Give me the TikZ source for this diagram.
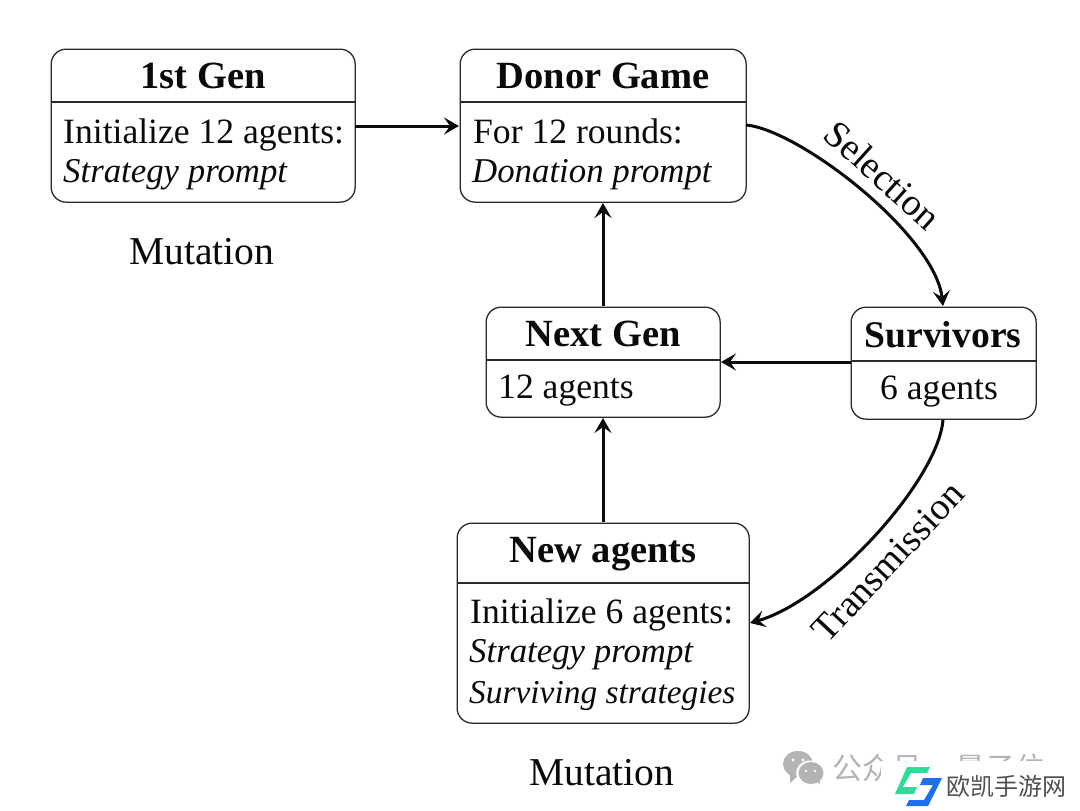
\documentclass[tikz,border=0pt]{standalone}
\usepackage{fontspec}
\setmainfont{Liberation Serif}
\newfontfamily\cjkfont{Noto Sans CJK SC}
\usetikzlibrary{arrows.meta}
\definecolor{inkc}{HTML}{0A0A0A}
\definecolor{framec}{HTML}{2A2A2A}
\definecolor{wmgray}{HTML}{B4B4B4}
\definecolor{logogreen}{HTML}{2FDD9B}
\definecolor{logoblue}{HTML}{1E6FF0}
\definecolor{logotext}{HTML}{505050}
\tikzset{
  x=1pt,y=-1pt,
  cardbox/.style={draw=framec,line width=1.3pt,rounded corners=15pt,inner sep=0pt,anchor=north west},
  divider/.style={draw=framec,line width=1.1pt},
  title/.style={font=\fontsize{38.5}{40}\selectfont\bfseries,anchor=base,inner sep=0pt,text=inkc},
  body/.style={font=\fontsize{35.6}{40}\selectfont,anchor=base west,inner sep=0pt,text=inkc},
  bodyit/.style={font=\fontsize{34.8}{40}\selectfont\itshape,anchor=base west,inner sep=0pt,text=inkc},
  plain/.style={font=\fontsize{39.5}{40}\selectfont,anchor=base,inner sep=0pt,text=inkc},
  edgelabel/.style={font=\fontsize{38}{40}\selectfont,inner sep=0pt,text=inkc},
  flow/.style={draw=inkc,line width=3pt,-{Stealth[length=15pt,width=17pt,inset=6pt]}},
}
\begin{document}
\begin{tikzpicture}
\useasboundingbox (0,0) rectangle (1080,811);
\fill[white] (0,0) rectangle (1080,811);

\node[cardbox,minimum width=304pt,minimum height=153pt] (first) at (50.5,48.5) {};
\node[cardbox,minimum width=286pt,minimum height=153pt] (donor) at (459.5,48.5) {};
\node[cardbox,minimum width=234pt,minimum height=110pt] (next) at (485.5,306.5) {};
\node[cardbox,minimum width=185pt,minimum height=112pt] (surv) at (850.5,306.5) {};
\node[cardbox,minimum width=292pt,minimum height=200pt] (newag) at (456.5,522.5) {};

\coordinate (firstL) at (50.5,102); \coordinate (firstR) at (354.5,102);
\coordinate (donorL) at (459.5,102); \coordinate (donorR) at (745.5,102);
\coordinate (nextL) at (485.5,360); \coordinate (nextR) at (719.5,360);
\coordinate (survL) at (850.5,361); \coordinate (survR) at (1035.5,361);
\coordinate (newL) at (456.5,583); \coordinate (newR) at (748.5,583);
\draw[divider] (firstL) -- (firstR);
\draw[divider] (donorL) -- (donorR);
\draw[divider] (nextL) -- (nextR);
\draw[divider] (survL) -- (survR);
\draw[divider] (newL) -- (newR);

\node[title] (t1) at (203,88) {1st Gen};
\node[body] (b1a) at (63,143) {Initialize 12 agents:};
\node[bodyit] (b1b) at (63,182) {Strategy prompt};
\node[plain] (m1) at (202,264) {Mutation};

\node[title] (t2) at (603,88) {Donor Game};
\node[body] (b2a) at (473,143) {For 12 rounds:};
\node[bodyit] (b2b) at (472,182) {Donation prompt};

\node[title] (t3) at (603,346) {Next Gen};
\node[body] (b3) at (498,398) {12 agents};

\node[title,font=\fontsize{37.6}{40}\selectfont\bfseries] (t4) at (943,347) {Survivors};
\node[body] (b4) at (880,399) {6 agents};

\node[title] (t5) at (603,562) {New agents};
\node[body] (b5a) at (470,623) {Initialize 6 agents:};
\node[bodyit] (b5b) at (469,662) {Strategy prompt};
\node[bodyit,font=\fontsize{33.4}{40}\selectfont\itshape] (b5c) at (469,703) {Surviving strategies};
\node[plain] (m2) at (602,785) {Mutation};

\coordinate (a1s) at (355,126); \coordinate (a1e) at (459,126);
\coordinate (a2s) at (603,306); \coordinate (a2e) at (603,203);
\coordinate (a3s) at (851,362); \coordinate (a3e) at (721,362);
\coordinate (a4s) at (603,522); \coordinate (a4e) at (603,418);
\coordinate (a5s) at (746,125); \coordinate (a5e) at (943,306);
\coordinate (a6s) at (943,420); \coordinate (a6e) at (750,623);
\draw[flow] (a1s) -- (a1e);
\draw[flow] (a2s) -- (a2e);
\draw[flow] (a3s) -- (a3e);
\draw[flow] (a4s) -- (a4e);
\draw[flow] (a5s) .. controls (800,130) and (935,235) .. (a5e);
\draw[flow] (a6s) .. controls (938,480) and (830,600) .. (a6e);

\node[edgelabel,rotate=-42] (sel) at (883,175) {Selection};
\node[edgelabel,rotate=47] (tra) at (888,562) {Transmission};

% watermark
\begin{scope}
\clip (830,745) rectangle (880,790) (880,745) rectangle (1050,760);
\node[font=\cjkfont\fontsize{30}{30}\selectfont,text=wmgray,anchor=west,inner sep=0pt] (wm) at (832,768) {公众号\hspace{33pt}量子位};
\end{scope}
\fill[wmgray] (798,764) ellipse (15pt and 13pt);
\fill[wmgray] (790,774) -- (790,783) -- (798,776) -- cycle;
\fill[white] (810,773) ellipse (14pt and 12.5pt);
\fill[wmgray] (811,773) ellipse (12.5pt and 11pt);
\fill[wmgray] (816,781) -- (820,784) -- (819,776) -- cycle;
\fill[white] (793,760) circle (1.6pt) (803,760) circle (1.6pt) (806,771) circle (1.4pt) (815,771) circle (1.4pt);
\fill[logogreen] (907,767) -- (930,767) -- (927,773) -- (911,773) -- (903,787) -- (917,787) -- (914,794) -- (895,794) -- cycle;
\fill[logoblue] (923,778) -- (942,778) -- (928,806) -- (906,806) -- (909,800) -- (924,800) -- (933,785) -- (920,785) -- cycle;
\node[font=\cjkfont\fontsize{24}{25}\selectfont,text=logotext,anchor=west,inner sep=0pt] (brand) at (946,786) {欧凯手游网};
\end{tikzpicture}
\end{document}
